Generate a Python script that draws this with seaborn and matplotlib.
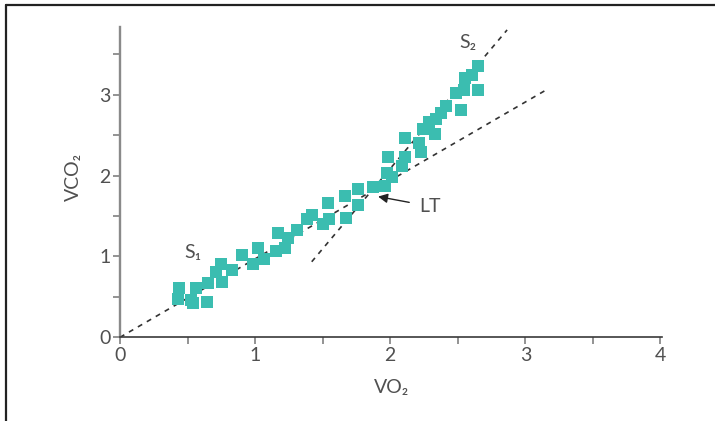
import numpy as np
import pandas as pd
import matplotlib
matplotlib.use("Agg")
import matplotlib.pyplot as plt
from matplotlib.lines import Line2D
from matplotlib.ticker import MultipleLocator
import seaborn as sns

# VO2 / VCO2 readings
vo2 = [0.437, 0.429, 0.563, 0.526, 0.540, 0.644, 0.651, 0.711, 0.748, 0.755,
       0.829, 0.903, 0.984, 1.021, 1.066, 1.155, 1.170, 1.221, 1.243, 1.310,
       1.384, 1.421, 1.503, 1.547, 1.540, 1.665, 1.673, 1.762, 1.762, 1.873,
       1.962, 1.976, 2.013, 1.984, 2.087, 2.110, 2.110, 2.213, 2.228, 2.243,
       2.287, 2.332, 2.339, 2.376, 2.413, 2.487, 2.524, 2.546, 2.554, 2.605,
       2.650, 2.650]
vco2 = [0.609, 0.474, 0.609, 0.461, 0.424, 0.436, 0.671, 0.807, 0.906, 0.684,
        0.832, 1.017, 0.906, 1.103, 0.968, 1.067, 1.289, 1.103, 1.227, 1.326,
        1.462, 1.512, 1.400, 1.462, 1.660, 1.747, 1.475, 1.834, 1.636, 1.858,
        1.870, 2.031, 1.982, 2.229, 2.117, 2.229, 2.464, 2.402, 2.291, 2.575,
        2.662, 2.513, 2.699, 2.773, 2.860, 3.020, 2.810, 3.057, 3.205, 3.242,
        3.057, 3.353]

# fitted slopes S1 and S2 (end points)
s1_x = [0.0, 3.153]
s1_y = [0.0, 3.057]
s2_x = [1.419, 2.865]
s2_y = [0.934, 3.800]

# lactate threshold annotation
lt_point = (1.910, 1.740)
lt_label = (2.295, 1.62)

df = pd.DataFrame({"VO2": vo2, "VCO2": vco2})

sns.set_style("white")
plt.rcParams["font.family"] = ["Lato", "DejaVu Sans"]

text_col = "#505050"
axis_gray = "#8a8a8a"

fig = plt.figure(figsize=(7.15, 4.21), dpi=100)
ax = fig.add_axes([120 / 715, 83.7 / 421, 541.8 / 715, 310.6 / 421])

for xs, ys in [(s1_x, s1_y), (s2_x, s2_y)]:
    ax.plot(xs, ys, color="#333333", lw=1.2, dashes=(3, 3.2), zorder=2)

sns.scatterplot(data=df, x="VO2", y="VCO2", marker="s", s=64, color="#3bbdb0",
                linewidth=0, ax=ax, zorder=3, clip_on=False)

ax.set_xlim(0, 4.01)
ax.set_ylim(0, 3.84)

ax.xaxis.set_major_locator(MultipleLocator(1))
ax.xaxis.set_minor_locator(MultipleLocator(0.5))
ax.yaxis.set_major_locator(MultipleLocator(1))
ax.yaxis.set_minor_locator(MultipleLocator(0.5))

for side in ["top", "right"]:
    ax.spines[side].set_visible(False)
ax.spines["left"].set_color(axis_gray)
ax.spines["left"].set_linewidth(1.7)
ax.spines["bottom"].set_color("#3a3a3a")
ax.spines["bottom"].set_linewidth(1.2)

ax.tick_params(which="both", direction="out", length=5, width=1.3,
               color=axis_gray, labelsize=14, labelcolor=text_col, pad=2)
ax.tick_params(axis="both", which="both", bottom=True, left=True)

ax.set_xlabel("VO₂", fontsize=14, color=text_col)
ax.set_ylabel("VCO₂", fontsize=14, color=text_col)
ax.xaxis.set_label_coords(0.502, -0.135)
ax.yaxis.set_label_coords(-0.07, 0.516)

ax.text(0.54, 1.054, "S₁", fontsize=14, color=text_col, ha="center", va="center")
ax.text(2.576, 3.65, "S₂", fontsize=14, color=text_col, ha="center", va="center")
ax.annotate("LT", xy=lt_point, xytext=lt_label, fontsize=14, color=text_col,
            ha="center", va="center",
            arrowprops=dict(arrowstyle="-|>", color="#222222", lw=1.0,
                            mutation_scale=14, shrinkA=5, shrinkB=0))

# partial frame (top and left edges)
fig.add_artist(Line2D([6 / 715, 1], [1 - 5 / 421, 1 - 5 / 421],
                      transform=fig.transFigure, color="#222222", lw=1.6))
fig.add_artist(Line2D([6 / 715, 6 / 715], [0, 1 - 5 / 421],
                      transform=fig.transFigure, color="#222222", lw=1.6))

fig.savefig("out.png", dpi=100)
